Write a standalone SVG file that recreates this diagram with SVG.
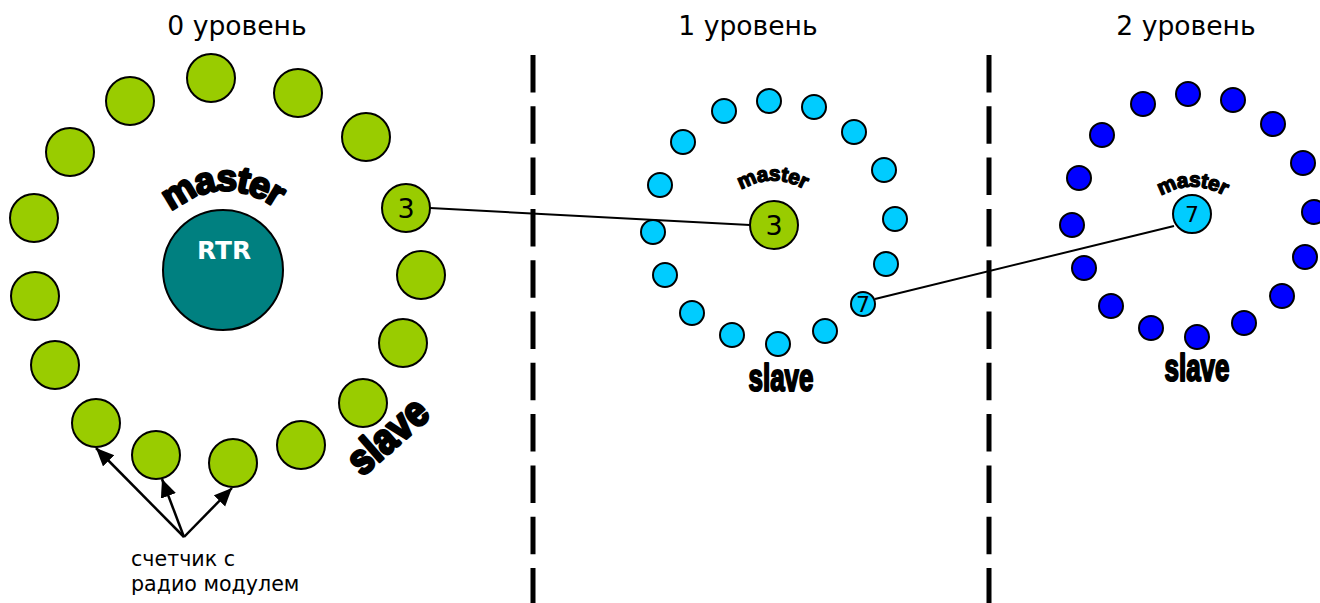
<svg xmlns="http://www.w3.org/2000/svg" width="1320" height="603" viewBox="0 0 1320 603">
<style>
.t{font-family:"DejaVu Sans",Verdana,sans-serif;fill:#000}
.title{font-size:26.6px}
.cap{font-size:20.6px}
.wa{font-family:"Liberation Sans",Arial,sans-serif;font-weight:700;fill:#000;stroke:#000;stroke-linejoin:round}
.g circle,.c circle,.b circle,circle.g,circle.c{stroke:#000;stroke-width:2}
.g circle,circle.g{fill:#99cc00}
.c circle,circle.c{fill:#00ccff}
.b circle{fill:#0000ff}
.dash{stroke:#000;stroke-width:5;stroke-dasharray:37.5 13.8;fill:none}
.link{stroke:#000;stroke-width:2;fill:none}
.arrow{stroke:#000;stroke-width:2.5;fill:none;marker-end:url(#ah)}
</style>
<defs>
<marker id="ah" markerUnits="userSpaceOnUse" markerWidth="20" markerHeight="18" refX="18" refY="8" orient="auto"><path d="M0 0L18 8L0 16Z" fill="#000"/></marker>
<path id="arc0" d="M171 212Q222 172 274 207"/>
<path id="arc1" d="M741 190Q772 172 804 189"/>
<path id="arc2" d="M1161 196Q1191 178 1223 195"/>
</defs>
<text class="t title" x="237" y="35" text-anchor="middle">0 уровень</text>
<text class="t title" x="748" y="35" text-anchor="middle">1 уровень</text>
<text class="t title" x="1186" y="35" text-anchor="middle">2 уровень</text>
<g id="dividers"><path class="dash" d="M533 55V603"/><path class="dash" d="M989 55V603"/></g>
<g id="level0-slaves" class="g">
<circle id="n0-1" cx="211" cy="78" r="24"/><circle id="n0-2" cx="298" cy="93" r="24"/><circle id="n0-3" cx="366" cy="137" r="24"/><circle id="n0-5" cx="421" cy="275" r="24"/><circle id="n0-6" cx="403" cy="343" r="24"/><circle id="n0-7" cx="363" cy="403" r="24"/><circle id="n0-8" cx="301" cy="445" r="24"/><circle id="n0-9" cx="233" cy="463" r="24"/><circle id="n0-10" cx="156" cy="455" r="24"/><circle id="n0-11" cx="96" cy="423" r="24"/><circle id="n0-12" cx="55" cy="365" r="24"/><circle id="n0-13" cx="35" cy="296" r="24"/><circle id="n0-14" cx="34" cy="218" r="24"/><circle id="n0-15" cx="70" cy="152" r="24"/><circle id="n0-16" cx="130" cy="101" r="24"/>
</g>
<g id="level1-slaves" class="c">
<circle id="n1-1" cx="769" cy="101" r="12"/><circle id="n1-2" cx="814" cy="107" r="12"/><circle id="n1-3" cx="854" cy="132" r="12"/><circle id="n1-4" cx="884" cy="170" r="12"/><circle id="n1-5" cx="895" cy="219" r="12"/><circle id="n1-6" cx="886" cy="264" r="12"/><circle id="n1-8" cx="825" cy="331" r="12"/><circle id="n1-9" cx="778" cy="344" r="12"/><circle id="n1-10" cx="732" cy="335" r="12"/><circle id="n1-11" cx="692" cy="313" r="12"/><circle id="n1-12" cx="665" cy="275" r="12"/><circle id="n1-13" cx="653" cy="232" r="12"/><circle id="n1-14" cx="660" cy="185" r="12"/><circle id="n1-15" cx="683" cy="142" r="12"/><circle id="n1-16" cx="724" cy="111" r="12"/>
</g>
<g id="level2-slaves" class="b">
<circle id="n2-1" cx="1188" cy="94" r="12"/><circle id="n2-2" cx="1233" cy="100" r="12"/><circle id="n2-3" cx="1273" cy="124" r="12"/><circle id="n2-4" cx="1303" cy="163" r="12"/><circle id="n2-5" cx="1314" cy="212" r="12"/><circle id="n2-6" cx="1305" cy="257" r="12"/><circle id="n2-7" cx="1282" cy="296" r="12"/><circle id="n2-8" cx="1244" cy="323" r="12"/><circle id="n2-9" cx="1197" cy="337" r="12"/><circle id="n2-10" cx="1151" cy="328" r="12"/><circle id="n2-11" cx="1111" cy="306" r="12"/><circle id="n2-12" cx="1084" cy="268" r="12"/><circle id="n2-13" cx="1072" cy="225" r="12"/><circle id="n2-14" cx="1079" cy="178" r="12"/><circle id="n2-15" cx="1102" cy="135" r="12"/><circle id="n2-16" cx="1143" cy="104" r="12"/>
</g>
<g id="connectors">
<path class="link" d="M430 208L750 225"/>
<path class="link" d="M875 299L1174 226"/>
<path class="arrow" d="M184 537L96 448"/>
<path class="arrow" d="M184 537L162 479"/>
<path class="arrow" d="M184 537L232 488"/>
</g>
<g id="rtr"><circle cx="223" cy="270" r="60" fill="#008080" stroke="#000" stroke-width="2"/><text x="224" y="259" text-anchor="middle" font-family="DejaVu Sans,Verdana,sans-serif" font-weight="700" font-size="24.8" fill="#fff">RTR</text></g>
<g id="n0-4" class="g"><circle class="g" cx="406" cy="208" r="24"/><text class="t" x="406" y="218" text-anchor="middle" font-size="27">3</text></g>
<g id="master1" class="g"><circle class="g" cx="774" cy="225" r="24"/><text class="t" x="774" y="235" text-anchor="middle" font-size="27">3</text></g>
<g id="n1-7"><circle class="c" cx="863" cy="304" r="12"/><text class="t" x="863" y="312" text-anchor="middle" font-size="22">7</text></g>
<g id="master2"><circle class="c" cx="1192" cy="214" r="19"/><text class="t" x="1192" y="222" text-anchor="middle" font-size="22">7</text></g>
<g id="labels">
<text class="wa" font-size="37" stroke-width="2.4" letter-spacing="-1.5"><textPath href="#arc0">master</textPath></text>
<text class="wa" font-size="21" stroke-width="1.3" letter-spacing="-0.4"><textPath href="#arc1">master</textPath></text>
<text class="wa" font-size="21" stroke-width="1.3" letter-spacing="-0.4"><textPath href="#arc2">master</textPath></text>
<text class="wa" font-size="26" stroke-width="1.4" transform="translate(781 391) scale(1 1.5)" text-anchor="middle">slave</text>
<text class="wa" font-size="26" stroke-width="1.4" transform="translate(1197 381) scale(1 1.5)" text-anchor="middle">slave</text>
<text class="wa" font-size="37" stroke-width="2.6" transform="translate(362 477) rotate(-41) scale(1 1.15)">slave</text>
<text class="t cap" x="131" y="566">счетчик с</text>
<text class="t cap" x="131" y="591">радио модулем</text>
</g>
</svg>
